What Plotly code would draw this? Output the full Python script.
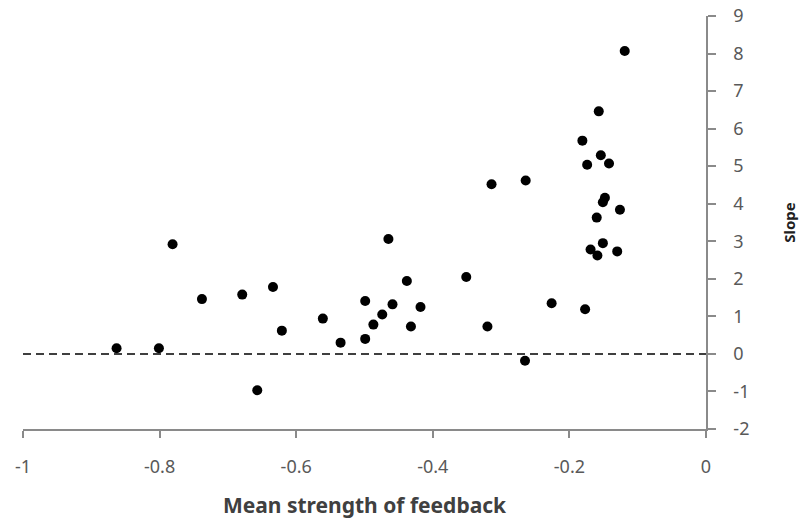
import plotly.graph_objects as go

# Data
feedback = [-0.863, -0.801, -0.781, -0.738, -0.679, -0.657, -0.634, -0.621,
            -0.561, -0.535, -0.499, -0.499, -0.487, -0.474, -0.465, -0.459,
            -0.438, -0.432, -0.418, -0.351, -0.320, -0.314, -0.265, -0.264,
            -0.226, -0.181, -0.177, -0.174, -0.169, -0.160, -0.159, -0.157,
            -0.154, -0.151, -0.151, -0.148, -0.142, -0.130, -0.126, -0.119]
slope = [0.15, 0.15, 2.92, 1.46, 1.58, -0.97, 1.78, 0.62,
         0.94, 0.30, 1.41, 0.40, 0.78, 1.05, 3.06, 1.32,
         1.94, 0.73, 1.25, 2.05, 0.73, 4.52, -0.18, 4.62,
         1.35, 5.68, 1.19, 5.04, 2.78, 3.63, 2.62, 6.46,
         5.29, 2.95, 4.04, 4.16, 5.07, 2.73, 3.84, 8.07]

x_ticks = [-1, -0.8, -0.6, -0.4, -0.2, 0]
x_tick_labels = ["-1", "-0.8", "-0.6", "-0.4", "-0.2", "0"]
y_ticks = [-2, -1, 0, 1, 2, 3, 4, 5, 6, 7, 8, 9]
y_tick_labels = ["-2", "-1", "0", "1", "2", "3", "4", "5", "6", "7", "8", "9"]
ref_line_x = [-1, 0]
ref_line_y = [0, 0]

fig = go.Figure()
fig.add_trace(go.Scatter(x=ref_line_x, y=ref_line_y, mode="lines",
                         line=dict(color="black", width=1.5, dash="8px,5px"),
                         hoverinfo="skip", showlegend=False, cliponaxis=False))
fig.add_trace(go.Scatter(x=feedback, y=slope, mode="markers",
                         marker=dict(color="black", size=10),
                         showlegend=False))

axis_color = "#8a8a8a"
label_font = dict(family="Noto Sans, Open Sans, sans-serif", size=18, color="#595959")

fig.update_layout(
    width=806, height=519,
    margin=dict(l=23, r=100, t=16, b=90),
    paper_bgcolor="white", plot_bgcolor="white",
    showlegend=False,
    xaxis=dict(
        range=[-1, 0], tickvals=x_ticks, ticktext=x_tick_labels,
        showgrid=False, zeroline=False, automargin=False,
        showline=True, linecolor=axis_color, linewidth=1.5,
        ticks="outside", ticklen=7, tickcolor=axis_color, tickwidth=1.5,
        tickfont=label_font, ticklabelstandoff=14,
        title=dict(text="<b>Mean strength of feedback</b>",
                   font=dict(family="Noto Sans, Open Sans, sans-serif", size=21, color="#404040"),
                   standoff=28),
    ),
    yaxis=dict(
        range=[-2, 9], tickvals=y_ticks, ticktext=y_tick_labels,
        side="right",
        showgrid=False, zeroline=False, automargin=False,
        showline=True, linecolor=axis_color, linewidth=1.5,
        ticks="outside", ticklen=8, tickcolor=axis_color, tickwidth=1.5,
        tickfont=label_font, ticklabelstandoff=14,
        title=dict(text="<b>Slope</b>",
                   font=dict(family="Noto Sans, Open Sans, sans-serif", size=15, color="#202020"),
                   standoff=36),
    ),
)

fig.write_html("out.html", config={"displayModeBar": False},
               post_script="document.body.style.margin='0';")
